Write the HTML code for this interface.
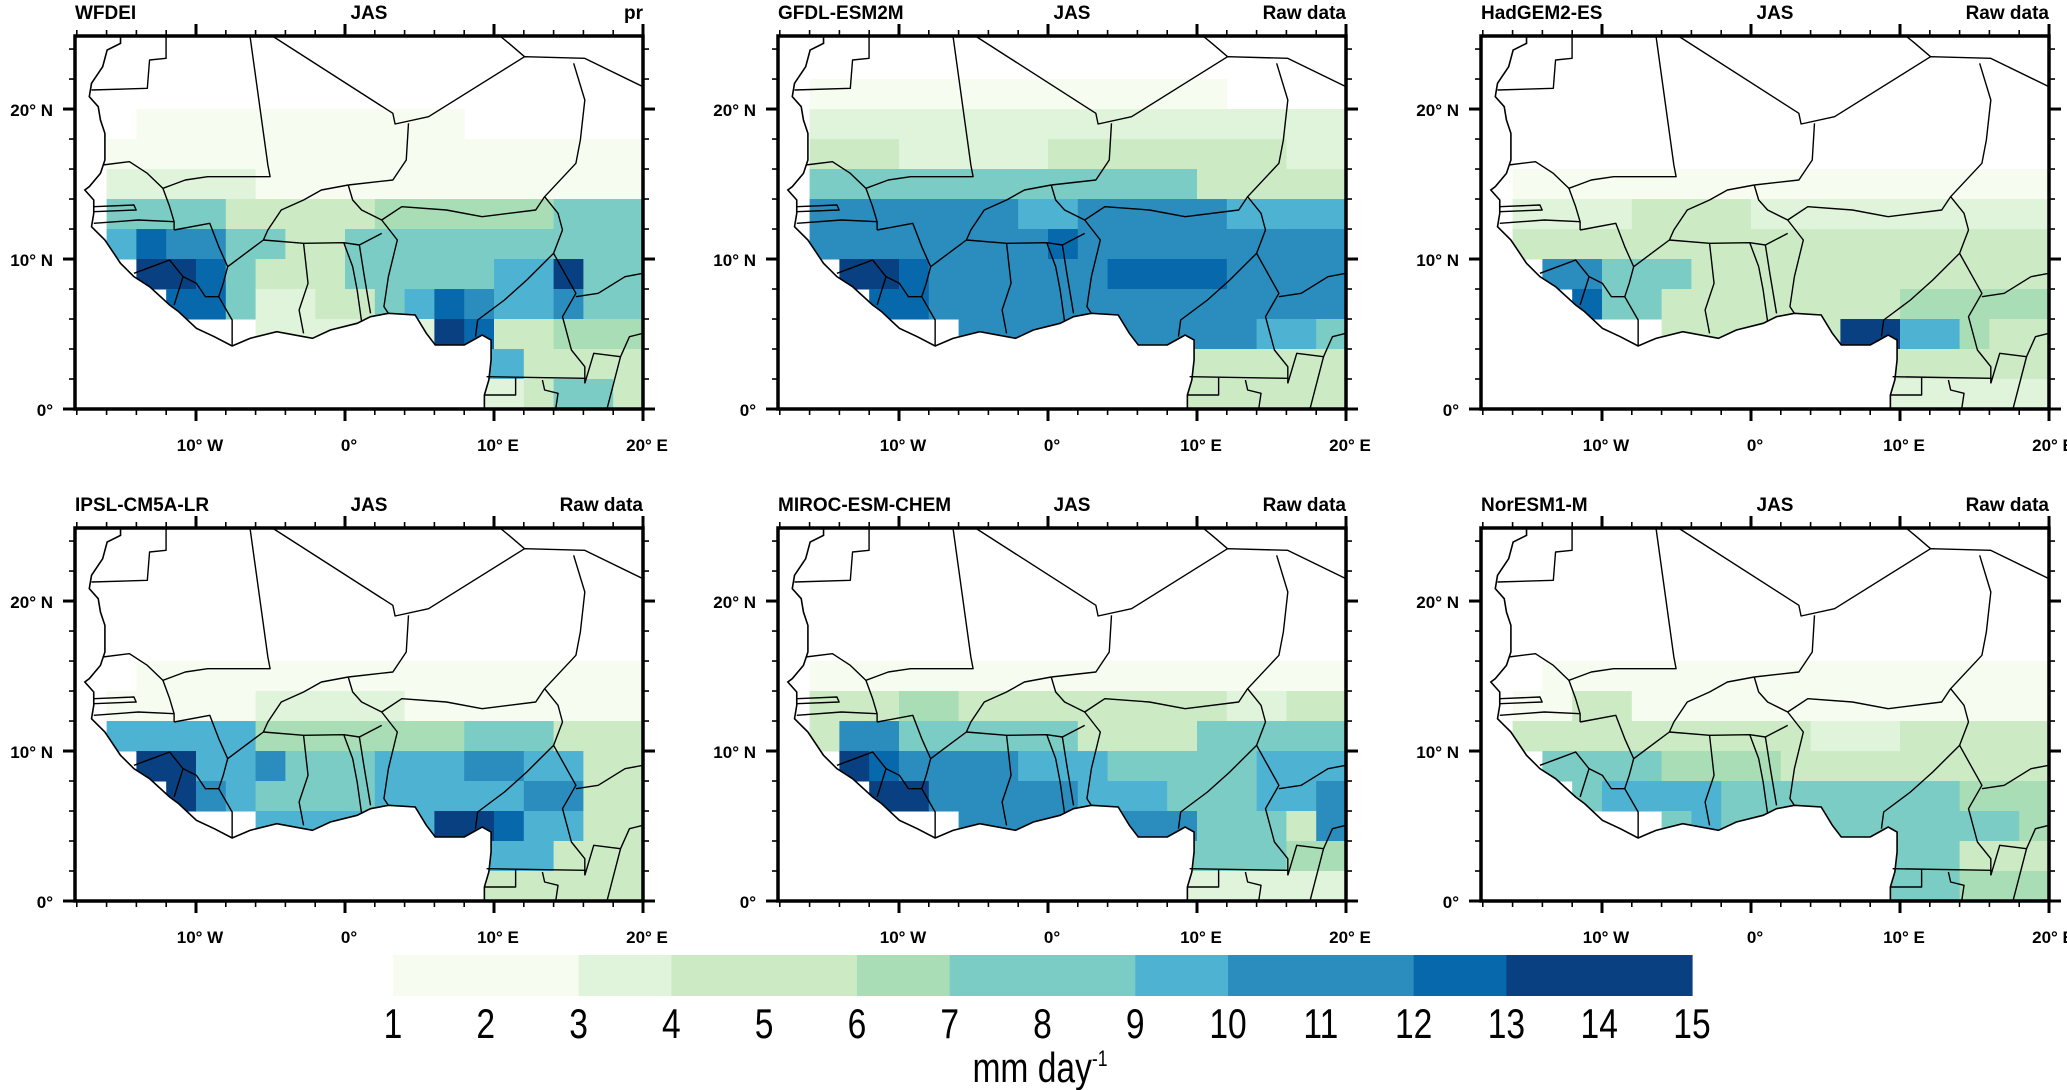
<!DOCTYPE html>
<html><head><meta charset="utf-8">
<style>
html,body{margin:0;padding:0;background:#fff;}
svg{display:block;}
text{font-family:"Liberation Sans",Arial,sans-serif;}
.t{font-weight:bold;font-size:19px;}
.ax{font-weight:bold;font-size:17px;}
</style></head>
<body>
<svg id="fig" width="2067" height="1090" viewBox="0 0 2067 1090" xmlns="http://www.w3.org/2000/svg">
<g id="panels"></g>
<g id="cbar"></g>
</svg>
<script>
// ---- data ----
const panelNames = ["WFDEI","GFDL-ESM2M","HadGEM2-ES","IPSL-CM5A-LR","MIROC-ESM-CHEM","NorESM1-M"];
const panelRight = ["pr","Raw data","Raw data","Raw data","Raw data","Raw data"];
const season = "JAS";
// grid: rows lat 24..0 step 2 (top to bottom), cols lon -18..20 step 2; values mm/day in hex (0-f)
const gridWFDEI = [
"0000000000000000000",
"0000000000000000000",
"0011111111111000000",
"0111111111111111111",
"0333332222222222222",
"0887755555666666888",
"09caa87557777778888",
"00ddc84447778899d88",
"000cc8334489cb99a88",
"000000333333dc55666",
"0000000000000995555",
"0000000000000334885"];
const gridGFDL = [
"0000000000000000000",
"0111111111111110000",
"0333333333333333333",
"0444333334555544433",
"0888777777777755555",
"0bbbaaaa99aaaaa9999",
"0bbbbbbbbcbbbbbbbaa",
"00eecbbbbbbccccbbaa",
"000ccbbbbbbbbbbaaaa",
"000000aaaaaaaaaa998",
"0000000000000444444",
"0000000000000444444"];
const gridHad = [
"0000000000000000000",
"0000000000000000000",
"0000000000000000000",
"0000000000000000000",
"0111122222222222211",
"0333344443333333333",
"0555544444444444444",
"00aa877444444444444",
"000c774444444466666",
"000000444444dd99655",
"0000000000000444444",
"0000000000000333333"];
const gridIPSL = [
"0000000000000000000",
"0000000000000000000",
"0000000000000000000",
"0000000000000000000",
"0011111111111111111",
"0222223333322222222",
"0999996666666888444",
"00dd99a777999aa9955",
"000ea9777799999aa55",
"000000999999ffc9955",
"0000000000000999555",
"0000000000000555555"];
const gridMIROC = [
"0000000000000000000",
"0000000000000000000",
"0000000000000000000",
"0000000000000000000",
"0111111111111111111",
"0444665544444443344",
"05bb887777555577777",
"00ecbaaa99977777999",
"000eebaaaa99977799a",
"000000bbbbbbbb7775a",
"0000000000000777766",
"0000000000000333333"];
const gridNor = [
"0000000000000000000",
"0000000000000000000",
"0000000000000000000",
"0000000000000000000",
"0011111111111111111",
"0224422222222222222",
"0444444444433344444",
"0077886666555555555",
"0007999988877777666",
"0000008988887777776",
"0000000000000777555",
"0000000000000777666"];
const grids = [gridWFDEI,gridGFDL,gridHad,gridIPSL,gridMIROC,gridNor];
// colorbar
const cbBounds = [1,3,4,5,6,7,9,10,11,12,13,15];
const cbColors = ["#f7fcf0","#e0f3db","#ccebc5","#ccebc5","#a8ddb5","#7bccc4","#4eb3d3","#2b8cbe","#2b8cbe","#0868ac","#084081"];
const cbTicks = [1,2,3,4,5,6,7,8,9,10,11,12,13,14,15];
const lonTicks = [-10,0,10,20];
const lonTickLabels = ["10°  W","0°","10° E","20° E"];
const latTicks = [0,10,20];
const latTickLabels = ["0°","10°  N","20°  N"];

// ---- geometry ----
const PW=568, PH=373;
const origins=[[75,36],[778,36],[1481,36],[75,528],[778,528],[1481,528]];
const LON0=-18.12, LON1=20, LAT0=0, LAT1=24.87;
function xs(lon){return (lon-LON0)/(LON1-LON0)*PW;}
function ys(lat){return (LAT1-lat)/(LAT1-LAT0)*PH;}
function gz(p){return [(p[0]/2.24-75), (p[1]/3-36)];}
const coast=[[270,108],[270,130],[240,150],[230,200],[205,250],[200,290],[220,320],[225,360],[235,400],[235,480],[225,520],[200,560],[190,570],[210,600],[210,640],[205,680],[235,720],[270,790],[300,830],[335,860],[380,915],[400,935],[440,985],[480,1010],[520,1038],[560,1015],[620,995],[700,1015],[740,990],[800,970],[830,950],[870,940],[930,945],[955,1000],[975,1035],[1040,1035],[1060,1020],[1080,1005],[1100,1020],[1100,1080],[1095,1140],[1085,1185],[1085,1228],[1445,1228],[1445,105],[270,105]];
const borders=[
[[372,108],[372,175],[335,180],[330,265],[205,270]],
[[560,108],[600,495],[605,530],[465,530],[415,540],[385,555],[365,565]],
[[230,495],[290,485],[330,520],[365,565]],
[[610,108],[880,340],[885,372],[960,350],[1175,170],[1310,175],[1440,260]],
[[1175,170],[1140,130],[1120,108]],
[[1285,190],[1310,300],[1300,420],[1290,490],[1220,590],[1250,640],[1260,690]],
[[915,370],[910,480],[880,540],[780,555]],
[[780,555],[790,600],[810,630],[855,660]],
[[780,555],[720,570],[680,600],[630,630],[600,690],[590,720],[550,760]],
[[855,660],[900,620],[1000,630],[1080,650],[1200,630],[1220,590]],
[[855,660],[890,720],[870,830],[860,920],[870,940]],
[[805,735],[815,820],[830,940]],
[[770,728],[790,800],[800,870],[810,965]],
[[590,720],[680,730],[770,728],[805,735],[855,700]],
[[680,730],[690,850],[670,930],[680,1000]],
[[550,760],[510,800],[490,740],[470,670],[390,690]],
[[510,800],[500,850],[490,890],[520,960],[520,1035]],
[[490,890],[460,890],[440,850],[410,830]],
[[300,820],[340,800],[380,780],[410,830],[390,915]],
[[210,670],[310,660],[390,665]],
[[365,565],[380,620],[390,665],[390,690]],
[[210,620],[300,615],[305,630],[210,635]],
[[1065,1010],[1070,960],[1130,900],[1180,840],[1240,760],[1260,690]],
[[1240,760],[1290,880],[1260,950],[1280,1050],[1310,1100],[1310,1150]],
[[1290,890],[1340,880],[1400,830],[1440,820]],
[[1090,1130],[1310,1135]],
[[1155,1130],[1155,1185],[1085,1185]],
[[1215,1140],[1220,1170],[1250,1180],[1245,1225]],
[[1310,1150],[1330,1060],[1390,1070],[1410,1010],[1440,1000]],
[[1390,1070],[1360,1225]]
];
function colorFor(v){
  if(v<1) return null;
  for(let i=0;i<cbColors.length;i++){ if(v<cbBounds[i+1]) return cbColors[i]; }
  return cbColors[cbColors.length-1];
}
const NS="http://www.w3.org/2000/svg";
function mk(tag,attrs,parent){const e=document.createElementNS(NS,tag);for(const k in attrs)e.setAttribute(k,attrs[k]);if(parent)parent.appendChild(e);return e;}
const panels=document.getElementById('panels');
const coastPts=coast.map(gz).map(p=>p.join(',')).join(' ');
grids.forEach((grid,pi)=>{
  const [ox,oy]=origins[pi];
  const g=mk('g',{transform:`translate(${ox},${oy})`},panels);
  
  
  const cp=mk('clipPath',{id:'clip'+pi},g);
  mk('polygon',{points:coastPts},cp);
  const cells=mk('g',{'clip-path':`url(#clip${pi})`},g);
  
  
  grid.forEach((row,ri)=>{
    const latTop=24-ri*2;
    for(let ci=0;ci<19;ci++){
      const v=parseInt(row[ci]||'0',16);
      const c=colorFor(v); if(!c) continue;
      const lon=-18+ci*2;
      const x0=Math.max(0,xs(lon)), x1=xs(lon+2);
      const yt=Math.max(0,ys(latTop)), yb=ys(latTop-2);
      const r=mk('rect',{x:x0,y:yt,width:x1-x0+0.5,height:yb-yt+0.5,fill:c},cells);
      
      
    }
  });
  const cl=mk('polyline',{points:coast.slice(0,43).map(gz).map(p=>p.join(',')).join(' '),fill:'none',stroke:'#000','stroke-width':1.6},g);
  
  
  borders.forEach(b=>{
    const pl=mk('polyline',{points:b.map(gz).map(p=>p.join(',')).join(' '),fill:'none',stroke:'#000','stroke-width':1.4,'stroke-linejoin':'round'},g);
    
    
  });
  const fr=mk('rect',{x:0,y:0,width:PW,height:PH,fill:'none',stroke:'#000','stroke-width':3.5},g);
  
  
  const tk=mk('g',{stroke:'#000'},g);
  
  
  for(let lon=-18;lon<=20;lon+=2){
    const x=xs(lon), maj=(lon%10===0), L=maj?12:6, w=maj?3:1.6;
    mk('line',{x1:x,y1:0,x2:x,y2:-L,'stroke-width':w},tk);
    mk('line',{x1:x,y1:PH,x2:x,y2:PH+L,'stroke-width':w},tk);
  }
  for(let lat=0;lat<=24;lat+=2){
    const y=ys(lat), maj=(lat%10===0), L=maj?12:6, w=maj?3:1.6;
    mk('line',{x1:0,y1:y,x2:-L,y2:y,'stroke-width':w},tk);
    mk('line',{x1:PW,y1:y,x2:PW+L,y2:y,'stroke-width':w},tk);
  }
  lonTicks.forEach((lon,i)=>{
    const t=mk('text',{x:xs(lon)+4,y:PH+42,'text-anchor':'middle',class:'ax','xml:space':'preserve'},g);
    t.textContent=lonTickLabels[i];
    
    
  });
  latTicks.forEach((lat,i)=>{
    const t=mk('text',{x:-22,y:ys(lat)+7,'text-anchor':'end',class:'ax','xml:space':'preserve'},g);
    t.textContent=latTickLabels[i];
    
    
  });
  const t1=mk('text',{x:0,y:-17,class:'t'},g); t1.textContent=panelNames[pi];
  
  
  const t2=mk('text',{x:PW/2+10,y:-17,'text-anchor':'middle',class:'t'},g); t2.textContent=season;
  
  
  const t3=mk('text',{x:PW,y:-17,'text-anchor':'end',class:'t'},g); t3.textContent=panelRight[pi];
  
  
});
const cb=document.getElementById('cbar');
const CBX0=393, CBX1=1692, CBY=955, CBH=41;
function cx(v){return CBX0+(v-1)/(14)*(CBX1-CBX0);}
cbColors.forEach((c,i)=>{
  const r=mk('rect',{x:cx(cbBounds[i]),y:CBY,width:cx(cbBounds[i+1])-cx(cbBounds[i])+0.6,height:CBH,fill:c},cb);
  
  
});
cbTicks.forEach(v=>{
  const t=mk('text',{x:cx(v),y:1038,'text-anchor':'middle','font-size':'42',transform:`translate(${cx(v)},1038) scale(0.8,1) translate(${-cx(v)},-1038)`},cb);
  t.textContent=String(v);
  
  
});
const ut=mk('text',{x:1040,y:1082,'text-anchor':'middle','font-size':'42',transform:'translate(1040,1082) scale(0.8,1) translate(-1040,-1082)'},cb);
ut.innerHTML='mm day<tspan dy="-16" font-size="22">-1</tspan>';


</script>
</body></html>
